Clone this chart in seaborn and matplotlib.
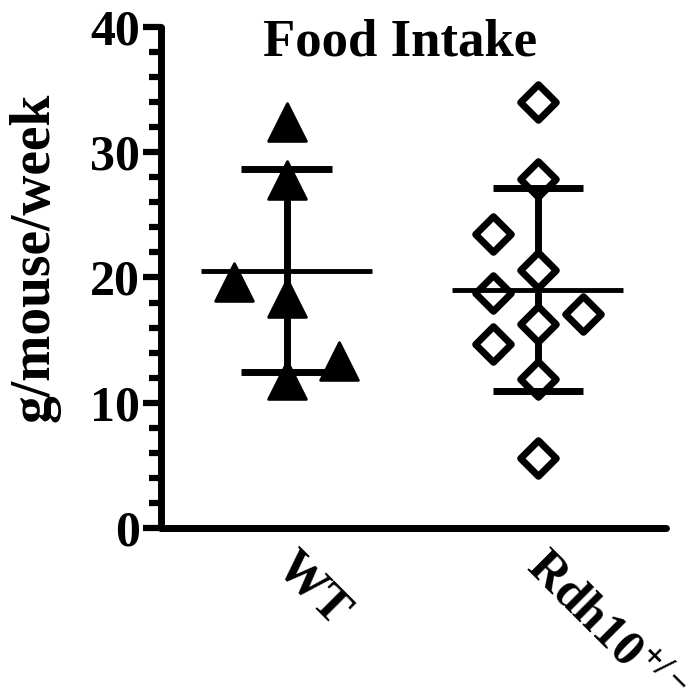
import matplotlib
matplotlib.use("Agg")
import matplotlib.pyplot as plt
import numpy as np
import pandas as pd
import seaborn as sns
from matplotlib.ticker import MultipleLocator
from matplotlib.transforms import ScaledTranslation

# Data (g/mouse/week)
groups = ["WT", "Rdh10"]
tick_labels = ["WT", r"Rdh10$^{+/-}$"]
wt_values = [32.4, 27.8, 19.6, 18.4, 13.3, 11.8]
wt_offsets = [0.0, 0.0, -0.21, 0.0, 0.21, 0.0]
rdh_values = [34.0, 27.9, 23.5, 20.6, 18.8, 17.1, 16.3, 14.7, 11.9, 5.6]
rdh_offsets = [0.0, 0.0, -0.18, 0.0, -0.18, 0.18, 0.0, -0.18, 0.0, 0.0]

df = pd.DataFrame({
    "group": ["WT"] * len(wt_values) + ["Rdh10"] * len(rdh_values),
    "value": wt_values + rdh_values,
    "offset": wt_offsets + rdh_offsets,
})
df["x"] = df["group"].map({g: i for i, g in enumerate(groups)}) + df["offset"]

sns.set_theme(style="ticks")
plt.rcParams["font.family"] = ["Liberation Serif", "DejaVu Serif"]
plt.rcParams["font.weight"] = "bold"
plt.rcParams["mathtext.fontset"] = "custom"
plt.rcParams["mathtext.rm"] = "Liberation Serif:bold"
plt.rcParams["mathtext.it"] = "Liberation Serif:bold"
plt.rcParams["mathtext.bf"] = "Liberation Serif:bold"
for key in ["text.color", "axes.labelcolor", "xtick.color", "ytick.color", "axes.edgecolor"]:
    plt.rcParams[key] = "black"

fig = plt.figure(figsize=(6.97, 6.98), dpi=100)
ax = fig.add_axes([0.231, 0.2436, 0.7245, 0.7177])

# mean +/- SD
for i, g in enumerate(groups):
    vals = df.loc[df["group"] == g, "value"]
    m, s = vals.mean(), vals.std()
    ax.vlines(i, m - s, m + s, color="black", lw=5, zorder=1)
    ax.hlines([m - s, m + s], i - 0.18, i + 0.18, color="black", lw=5, zorder=4)
    ax.hlines(m, i - 0.34, i + 0.34, color="black", lw=3.5, zorder=4)

sns.scatterplot(data=df[df["group"] == "WT"], x="x", y="value", marker="^",
                s=740, color="black", edgecolor="black", linewidth=2,
                joinstyle="round", zorder=3, ax=ax, legend=False)
sns.scatterplot(data=df[df["group"] == "Rdh10"], x="x", y="value", marker="D",
                s=330, facecolor="white", edgecolor="black", linewidth=5,
                joinstyle="round", zorder=3, ax=ax, legend=False)

ax.set_xlim(-0.5, 1.51)
ax.set_ylim(0, 40)
ax.yaxis.set_major_locator(MultipleLocator(10))
ax.yaxis.set_minor_locator(MultipleLocator(2))
ax.set_xticks(range(len(groups)))
ax.set_xticklabels(tick_labels, rotation=-45, ha="left", va="top",
                   rotation_mode="anchor", fontsize=36, fontweight="bold")
ax.tick_params(axis="x", length=0, pad=8)
ax.tick_params(axis="y", which="major", length=13, width=4.5, labelsize=36, pad=2)
ax.tick_params(axis="y", which="minor", length=9, width=4.5)
for lab in ax.get_yticklabels():
    lab.set_fontweight("bold")
shift = ScaledTranslation(9 / 72, -3 / 72, fig.dpi_scale_trans)
for lab in ax.get_xticklabels():
    lab.set_transform(lab.get_transform() + shift)

sns.despine(ax=ax)
for side in ["left", "bottom"]:
    ax.spines[side].set_linewidth(5)
    ax.spines[side].set_capstyle("round")

ax.set_xlabel("")
ax.set_ylabel("g/mouse/week", fontsize=40, fontweight="bold")
ax.yaxis.set_label_coords(-0.20, 0.54)
ax.text(0.474, 0.97, "Food Intake", transform=ax.transAxes, ha="center",
        va="center", fontsize=38, fontweight="bold")

fig.savefig("out.png", dpi=100)
